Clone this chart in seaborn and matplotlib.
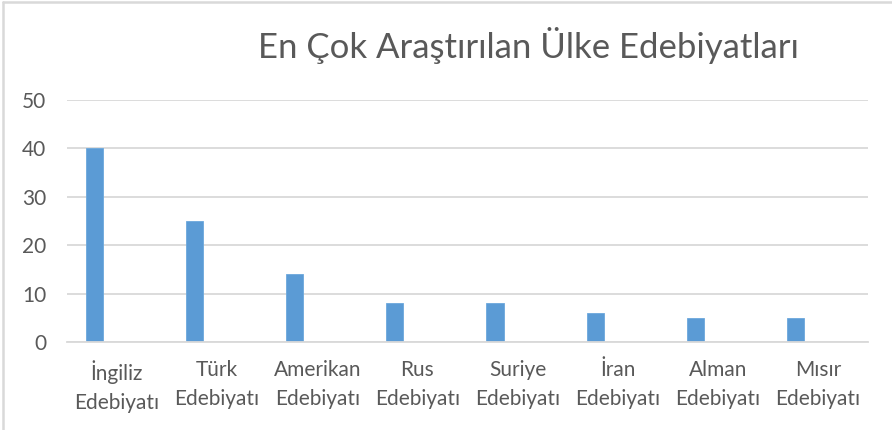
import pandas as pd
import seaborn as sns
import matplotlib.pyplot as plt
from matplotlib.lines import Line2D

# data
categories = ["İngiliz\nEdebiyatı", "Türk\nEdebiyatı", "Amerikan\nEdebiyatı", "Rus\nEdebiyatı",
              "Suriye\nEdebiyatı", "İran\nEdebiyatı", "Alman\nEdebiyatı", "Mısır\nEdebiyatı"]
values = [40, 25, 14, 8, 8, 6, 5, 5]
series_names = ["Seri 1", "Seri 2", "Seri 3"]  # only the first one has data in the original
yticks = [0, 10, 20, 30, 40, 50]
title = "En Çok Araştırılan Ülke Edebiyatları"

textColor = "#595959"
gridColor = "#D9D9D9"
barColor = "#5B9BD5"

sns.set_style("white")
plt.rcParams['font.family'] = ['Lato', 'DejaVu Sans']

df = pd.DataFrame({"kategori": categories, "deger": values, "seri": series_names[0]})

fig = plt.figure(figsize=(8.92, 4.30), dpi=100)
ax = fig.add_axes([0.0751, 0.2047, 0.8979, 0.5627])

sns.barplot(data=df, x="kategori", y="deger", hue="seri", hue_order=series_names,
            order=categories, palette=[barColor, barColor, barColor],
            width=0.675, gap=0.24, dodge=True, legend=False, ax=ax,
            saturation=1, edgecolor="#6CA8DD", linewidth=0.6)

ax.set_xlim(-0.5, len(categories) - 0.5)
ax.set_ylim(0, 50)
ax.set_yticks(yticks)
ax.set_yticklabels([str(t) for t in yticks])
ax.grid(axis="y", color=gridColor, linewidth=1.3)
ax.set_axisbelow(True)
for side in ["top", "right", "left"]:
    ax.spines[side].set_visible(False)
ax.spines["bottom"].set_color(gridColor)
ax.spines["bottom"].set_linewidth(1.3)
ax.tick_params(axis="both", length=0, colors=textColor, labelsize=15)
ax.tick_params(axis="x", pad=13)
ax.tick_params(axis="y", pad=15)
for lbl in ax.get_xticklabels():
    lbl.set_linespacing(1.55)
    lbl.set_multialignment("center")
ax.set_xlabel("")
ax.set_ylabel("")

fig.text(0.592, 0.895, title, ha="center", va="center", fontsize=25, color=textColor)

# chart border (left and top visible in the original crop)
fig.add_artist(Line2D([0.003, 0.003], [0, 0.995], transform=fig.transFigure, color=gridColor, linewidth=1.8))
fig.add_artist(Line2D([0.003, 1.0], [0.995, 0.995], transform=fig.transFigure, color=gridColor, linewidth=1.8))

fig.savefig("out.png", dpi=100)
